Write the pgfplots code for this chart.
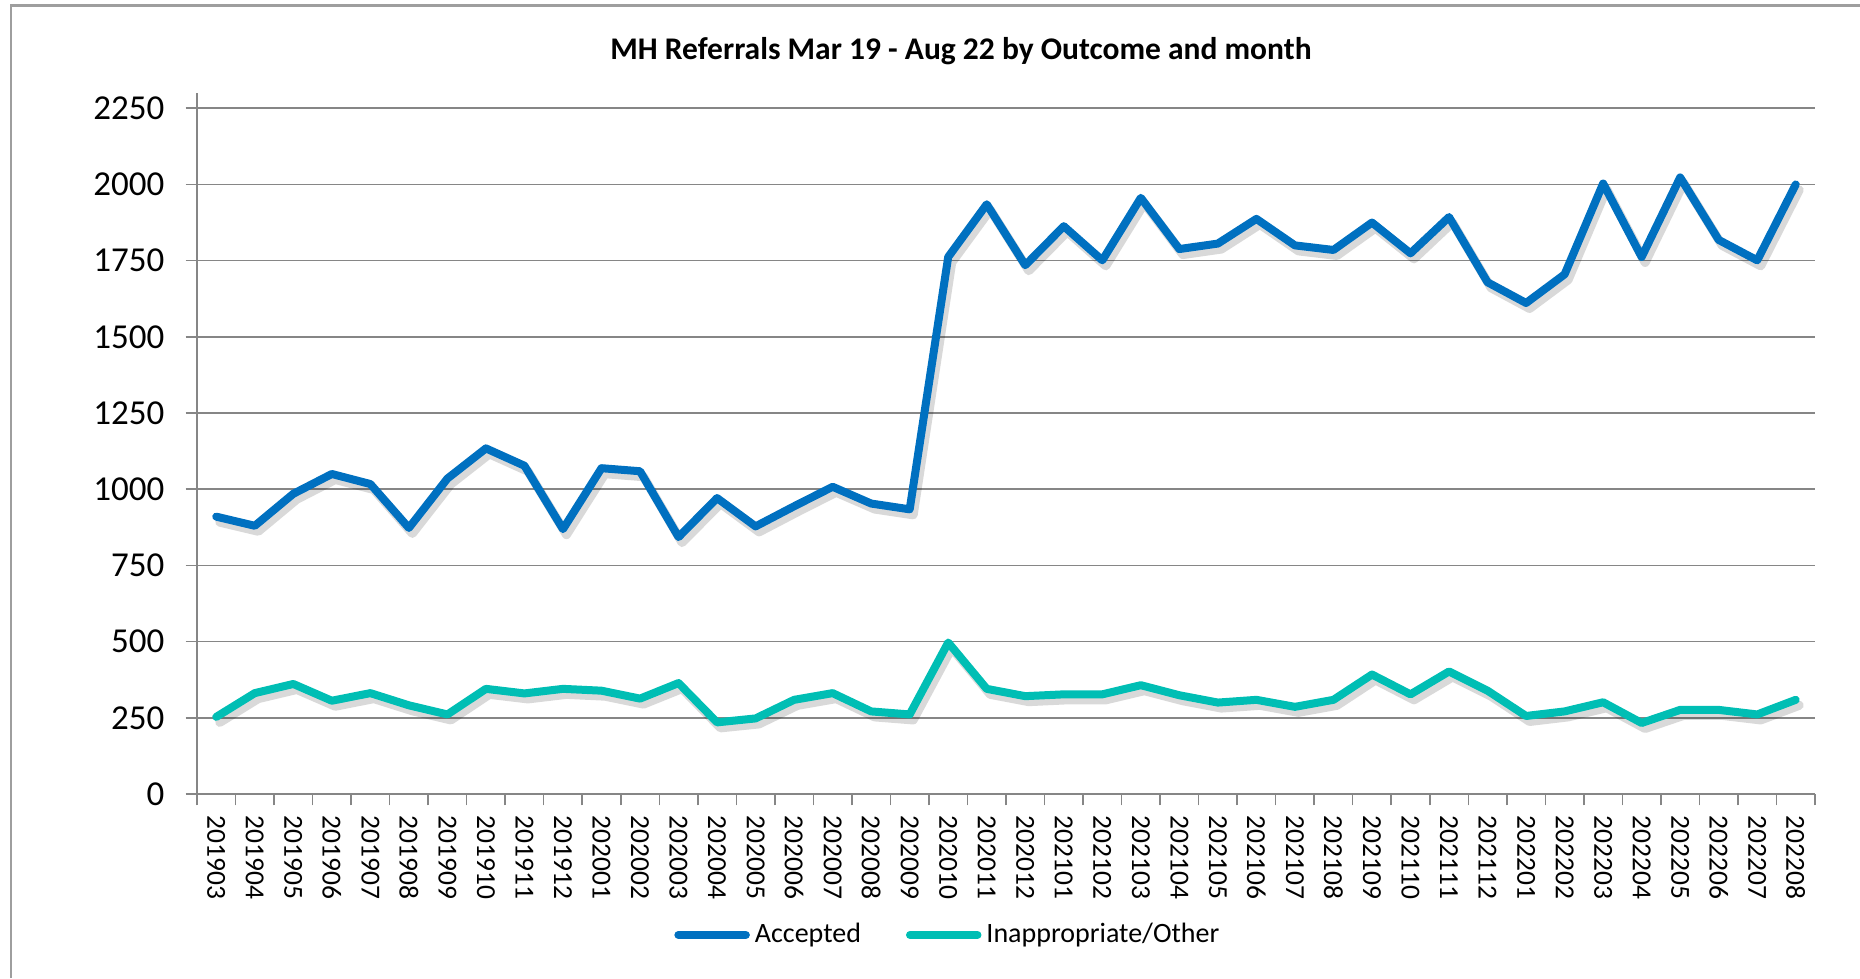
\documentclass[border=0pt]{standalone}
\usepackage{fontspec}
\setmainfont{Carlito}
\usepackage{pgfplots}
\pgfplotsset{compat=1.18}
\definecolor{acc}{RGB}{0,112,192}
\definecolor{inap}{RGB}{0,190,180}
\definecolor{gridc}{RGB}{134,134,134}
\begin{document}
\begin{tikzpicture}
\useasboundingbox (0,0) rectangle (744pt,391.2pt);
\draw[gridc!80, line width=1pt] (4.4pt,0) -- (4.4pt,389pt) -- (744pt,389pt);
\node[font=\bfseries\fontsize{12.6}{14}\selectfont] at (384.4pt,370.8pt) {MH Referrals Mar 19 - Aug 22 by Outcome and month};
\begin{axis}[
  at={(78.8pt,73.6pt)}, anchor=south west,
  width=647.2pt, height=280.4pt, scale only axis,
  xmin=-0.5, xmax=41.5, ymin=0, ymax=2300,
  axis x line*=bottom, axis y line*=left,
  axis line style={gridc, line width=0.6pt, -},
  ytick={0,250,...,2250},
  xtick={-0.5,0.5,...,41.5},
  x tick label as interval,
  xticklabels={201903,201904,201905,201906,201907,201908,201909,201910,201911,201912,
    202001,202002,202003,202004,202005,202006,202007,202008,202009,202010,202011,202012,
    202101,202102,202103,202104,202105,202106,202107,202108,202109,202110,202111,202112,
    202201,202202,202203,202204,202205,202206,202207,202208},
  tick align=outside, major tick length=4.5pt,
  tick style={gridc, line width=0.6pt},
  ymajorgrids, grid style={gridc, line width=0.6pt},
  /pgf/number format/assume math mode=true,
  /pgf/number format/1000 sep={},
  yticklabel style={font=\fontsize{14}{16}\selectfont, inner sep=0pt, xshift=-8.4pt},
  xticklabel style={rotate=-90, anchor=west, font=\fontsize{11}{13}\selectfont, inner sep=0pt, xshift=4pt},
  legend style={at={(0.465,-0.201)}, anchor=center, draw=none, fill=none,
    legend columns=2, font=\fontsize{11.2}{13}\selectfont,
    /tikz/every even column/.append style={column sep=16pt}},
  legend image code/.code={\draw[#1] (0pt,0pt) -- (27pt,0pt);},
  every axis plot/.append style={line width=3.2pt, line join=round, line cap=round},
]
\addplot[black, opacity=0.15, line width=3.6pt, forget plot, transform canvas={shift={(1.4pt,-2.2pt)}}] coordinates {
(0,910)(1,880)(2,985)(3,1050)(4,1017)(5,873)(6,1035)(7,1134)(8,1077)(9,869)
(10,1069)(11,1059)(12,843)(13,971)(14,878)(15,944)(16,1008)(17,953)(18,934)(19,1762)
(20,1935)(21,1735)(22,1863)(23,1751)(24,1956)(25,1788)(26,1806)(27,1887)(28,1800)(29,1785)
(30,1875)(31,1774)(32,1893)(33,1679)(34,1611)(35,1705)(36,2003)(37,1762)(38,2023)(39,1818)
(40,1751)(41,2000)};
\addplot[black, opacity=0.15, line width=3.6pt, forget plot, transform canvas={shift={(1.4pt,-2.2pt)}}] coordinates {
(0,253)(1,331)(2,361)(3,306)(4,331)(5,291)(6,261)(7,345)(8,330)(9,345)
(10,339)(11,313)(12,364)(13,235)(14,248)(15,309)(16,331)(17,271)(18,261)(19,497)
(20,345)(21,321)(22,327)(23,327)(24,357)(25,324)(26,300)(27,309)(28,286)(29,309)
(30,392)(31,327)(32,402)(33,339)(34,256)(35,271)(36,301)(37,233)(38,276)(39,276)
(40,261)(41,309)};
\addplot[acc] coordinates {
(0,910)(1,880)(2,985)(3,1050)(4,1017)(5,873)(6,1035)(7,1134)(8,1077)(9,869)
(10,1069)(11,1059)(12,843)(13,971)(14,878)(15,944)(16,1008)(17,953)(18,934)(19,1762)
(20,1935)(21,1735)(22,1863)(23,1751)(24,1956)(25,1788)(26,1806)(27,1887)(28,1800)(29,1785)
(30,1875)(31,1774)(32,1893)(33,1679)(34,1611)(35,1705)(36,2003)(37,1762)(38,2023)(39,1818)
(40,1751)(41,2000)};
\addlegendentry{Accepted}
\addplot[inap] coordinates {
(0,253)(1,331)(2,361)(3,306)(4,331)(5,291)(6,261)(7,345)(8,330)(9,345)
(10,339)(11,313)(12,364)(13,235)(14,248)(15,309)(16,331)(17,271)(18,261)(19,497)
(20,345)(21,321)(22,327)(23,327)(24,357)(25,324)(26,300)(27,309)(28,286)(29,309)
(30,392)(31,327)(32,402)(33,339)(34,256)(35,271)(36,301)(37,233)(38,276)(39,276)
(40,261)(41,309)};
\addlegendentry{Inappropriate/Other}
\end{axis}
\end{tikzpicture}
\end{document}
